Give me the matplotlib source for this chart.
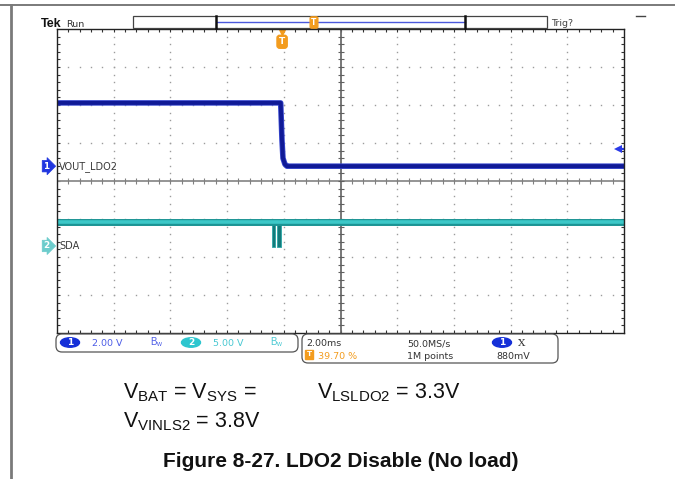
#scope capture: LDO2 disable (no load)

import matplotlib
matplotlib.use('Agg')
from matplotlib import pyplot as plt
from matplotlib import font_manager
from matplotlib.patches import FancyBboxPatch, Ellipse, Rectangle
from matplotlib.transforms import blended_transform_factory
import numpy as np

# channel 1 (VOUT_LDO2): time in ms from trigger, volts
ch1_t = [-7.94, -0.05, -0.004, 0.031, 0.10, 0.17, 12.06]
ch1_v = [3.33, 3.33, 1.37, 0.42, 0.10, 0.0, 0.0]
# channel 2 (SDA): idle level and the two low pulses just before the trigger
ch2_t = [-7.94, 12.06]
ch2_v = [3.2, 3.2]
sda_pulses = [(-0.367, -0.25), (-0.18, -0.056)]
sda_low = 0.0

ch_names = ['VOUT_LDO2', 'SDA']
ch_scale = [2.0, 5.0]        # V/div
ch_offset = [0.39, -1.71]    # ground marker, in divisions from centre
time_div = 2.0               # ms/div
trig_pct = 39.70             # trigger position in % of record
trig_level = 0.88            # V on ch1

scale_txt = ['2.00 V', '5.00 V']
time_txt = '2.00ms'
rate_txt = '50.0MS/s'
points_txt = '1M points'
level_txt = '880mV'

W, H = 675, 479
BLUE = '#1530d8'
CYAN = '#2ec6cf'
ORANGE = '#f39c1e'

names = {f.name for f in font_manager.fontManager.ttflist}
narrow = 'Liberation Sans Narrow' if 'Liberation Sans Narrow' in names else 'Liberation Sans'

plt.rcParams['font.family'] = ['DejaVu Sans']
plt.rcParams['mathtext.fontset'] = 'custom'
plt.rcParams['mathtext.rm'] = 'Liberation Sans'


def fig_box(x0, y0, x1, y1): #pixel box -> figure fraction
    return [x0 / W, 1 - y1 / H, (x1 - x0) / W, (y1 - y0) / H]


fig = plt.figure(figsize=(W / 100, H / 100), dpi=100)

# ---- scope screen ----
ax = fig.add_axes(fig_box(57, 29, 624, 333))
t_left = -trig_pct / 100 * 10 * time_div
t_right = t_left + 10 * time_div
ax.set_xlim(t_left, t_right)
ax.set_ylim(-4, 4)

grid_x = t_left + time_div * np.arange(1, 10)
fine_x = t_left + time_div / 5 * np.arange(1, 50)
fine_y = np.round(np.arange(-4, 4.001, 0.2), 3)[1:-1]
for k, x in enumerate(grid_x):
    if k == 4:
        continue
    ax.plot(np.full(len(fine_y), x), fine_y, ls='none', marker='s', ms=1.0, mew=0, color='#9c9c9c')
for y in [-3, -2, -1, 1, 2, 3]:
    ax.plot(fine_x, np.full(len(fine_x), y), ls='none', marker='s', ms=1.0, mew=0, color='#9c9c9c')

# centre cross with small ticks
ax.axhline(0, color='#8c8c8c', lw=1.3)
ax.axvline(grid_x[4], color='#6c6c6c', lw=1.3)
ax.plot(fine_x, np.zeros(len(fine_x)), ls='none', marker='|', ms=4.5, mew=0.8, color='#808080')
ax.plot(np.full(len(fine_y), grid_x[4]), fine_y, ls='none', marker='_', ms=4.5, mew=0.8, color='#606060')

ax.set_xticks([])
ax.set_yticks([])
ax.set_xticks(fine_x, minor=True)
ax.set_yticks(fine_y, minor=True)
ax.tick_params(which='minor', direction='in', length=2.5, width=0.8, color='#333333',
               top=True, right=True, bottom=True, left=True,
               labelbottom=False, labelleft=False)
for s in ax.spines.values():
    s.set_color('#222222')
    s.set_linewidth(1.0)

# traces
ch1_div = np.array(ch1_v) / ch_scale[0] + ch_offset[0]
ch2_div = np.array(ch2_v) / ch_scale[1] + ch_offset[1]
ax.plot(ch1_t, ch1_div, color='#3848d0', lw=4.0, solid_joinstyle='round')
ax.plot(ch1_t, ch1_div, color='#101a96', lw=2.8, solid_joinstyle='round')
ax.plot(ch2_t, ch2_div, color='#1b9494', lw=5.0)
ax.plot(ch2_t, ch2_div, color='#3cc8c8', lw=2.6)
for a, b in sda_pulses:
    ax.fill_between([a, b], sda_low / ch_scale[1] + ch_offset[1] - 0.03, ch2_div[0],
                    color='#147a7a', ec='#2aa8a8', lw=0.6)

# channel markers and names on the left edge
edge = blended_transform_factory(ax.transAxes, ax.transData)
marker_col = ['#2036e0', '#6ccccc']
for i in range(2):
    ax.text(-0.0185, ch_offset[i], str(i + 1), transform=edge, fontsize=6.3, fontweight='bold',
            color='white', ha='center', va='center', clip_on=False,
            bbox=dict(boxstyle='rarrow,pad=0.14', fc=marker_col[i], ec=marker_col[i], lw=0.5))
    ax.text(0.004, ch_offset[i], ch_names[i], transform=edge, fontsize=7,
            color='#3a3a3a', ha='left', va='center')

# trigger level arrow on the right edge
lvl = trig_level / ch_scale[0] + ch_offset[0]
ax.plot([0.989, 0.999], [lvl, lvl], transform=edge, color='#2a3ae8', lw=1.6, clip_on=False)
ax.plot([0.99], [lvl], transform=edge, marker='<', ms=5.5, mew=0, color='#2a3ae8', clip_on=False)

# trigger position marker at top
top = blended_transform_factory(ax.transData, ax.transAxes)
ax.plot([0], [0.99], transform=top, marker='v', ms=4.5, color=ORANGE, clip_on=False)
ax.text(0, 0.958, 'T', transform=top, fontsize=6.5, fontweight='bold', color='white',
        ha='center', va='center',
        bbox=dict(boxstyle='round,pad=0.22,rounding_size=0.3', fc=ORANGE, ec=ORANGE))

# ---- overlay in pixel units for the page and scope decorations ----
ov = fig.add_axes([0, 0, 1, 1])
ov.set_xlim(0, W)
ov.set_ylim(H, 0)
ov.axis('off')

# page frame
ov.plot([0, W], [5, 5], color='#7a7a7a', lw=1.4)
ov.plot([11, 11], [5, H], color='#7a7a7a', lw=2.0)

# header
ov.text(41, 26.5, 'Tek', family=narrow, fontweight='bold', fontsize=9, color='#111111', va='baseline')
ov.text(66, 26.5, 'Run', fontsize=6.8, color='#333333', va='baseline')
ov.add_patch(Rectangle((133, 16), 414, 12, fc='white', ec='#444444', lw=0.9))
ov.plot([217, 465], [21.5, 21.5], color='#4a58dc', lw=1.0)
ov.plot([216, 216], [16, 28], color='#111111', lw=1.8)
ov.plot([465, 465], [16, 28], color='#111111', lw=1.8)
ov.text(314, 22.5, 'T', fontsize=5.5, fontweight='bold', color='white', ha='center', va='center',
        bbox=dict(boxstyle='round,pad=0.15,rounding_size=0.2', fc=ORANGE, ec=ORANGE))
ov.text(551, 25.5, 'Trig?', fontsize=6.8, color='#444444', va='baseline')
ov.plot([636, 645], [16, 16], color='#444444', lw=1.0)

# channel readout box
ov.add_patch(FancyBboxPatch((56, 334), 242, 18, boxstyle='round,pad=0,rounding_size=6',
                            fc='white', ec='#555555', lw=0.9))
for i, (ex, tx, bx, col, tcol) in enumerate([(70, 92, 150, BLUE, '#4c5ce6'),
                                            (191, 213, 270, CYAN, '#48c8d2')]):
    ov.add_patch(Ellipse((ex, 342.5), 19, 9.5, fc=col, ec=col))
    ov.text(ex, 342.8, str(i + 1), fontsize=6.5, fontweight='bold', color='white',
            ha='center', va='center')
    ov.text(tx, 346.5, scale_txt[i], fontsize=6.8, color=tcol, va='baseline')
    ov.text(bx, 345, r'$\mathrm{B}_{\mathrm{w}}$', fontsize=7, color=tcol, va='baseline')

# timebase / trigger readout box
ov.add_patch(FancyBboxPatch((302, 334), 256, 29, boxstyle='round,pad=0,rounding_size=6',
                            fc='white', ec='#555555', lw=0.9))
ov.text(306, 346.5, time_txt, fontsize=6.8, color='#333333', va='baseline')
ov.text(309, 354.5, 'T', fontsize=5.2, fontweight='bold', color='white', ha='center', va='center',
        bbox=dict(boxstyle='square,pad=0.15', fc=ORANGE, ec=ORANGE))
ov.text(318, 359, '%.2f %%' % trig_pct, fontsize=6.8, color=ORANGE, va='baseline')
ov.text(407, 346.5, rate_txt, fontsize=6.8, color='#333333', va='baseline')
ov.text(407, 359, points_txt, fontsize=6.8, color='#333333', va='baseline')
ov.add_patch(Ellipse((502, 342.5), 19, 9.5, fc=BLUE, ec=BLUE))
ov.text(502, 342.8, '1', fontsize=6.5, fontweight='bold', color='white', ha='center', va='center')
ov.text(518, 346.5, 'X', family='DejaVu Serif', fontsize=7.5, color='#333333', va='baseline')
ov.text(496, 359, level_txt, fontsize=6.8, color='#333333', va='baseline')

# conditions and caption
ov.text(123, 398.5, r'V$_{\rm BAT}$ = V$_{\rm SYS}$ =', family='Liberation Sans', fontsize=15.5,
        color='#111111', va='baseline')
ov.text(317, 398.5, r'V$_{\rm LSLDO2}$ = 3.3V', family='Liberation Sans', fontsize=15.5,
        color='#111111', va='baseline')
ov.text(123, 427, r'V$_{\rm VINLS2}$ = 3.8V', family='Liberation Sans', fontsize=15.5,
        color='#111111', va='baseline')
ov.text(163, 467, 'Figure 8-27. LDO2 Disable (No load)', family='Liberation Sans',
        fontweight='bold', fontsize=15, color='#111111', va='baseline')

fig.savefig('out.png', dpi=100)
